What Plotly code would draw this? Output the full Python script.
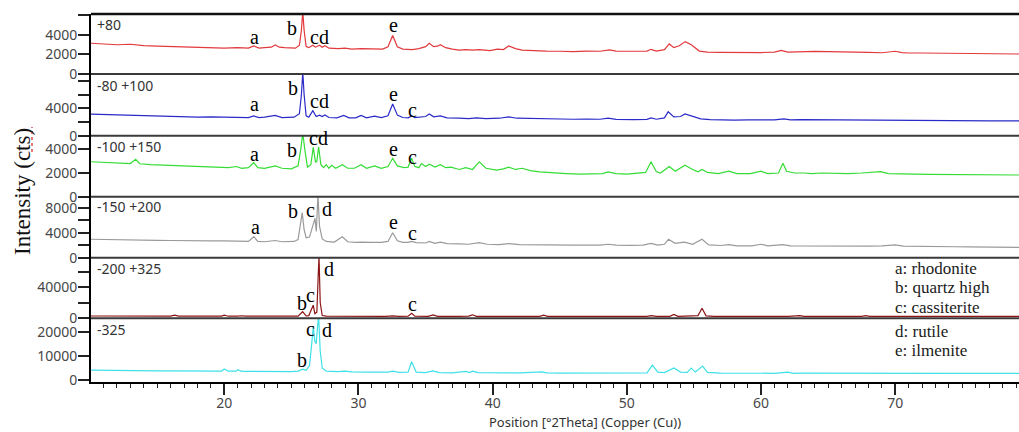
import plotly.graph_objects as go
from plotly.subplots import make_subplots

# ---------------- data ----------------
panel_names = ["+80", "-80 +100", "-100 +150", "-150 +200", "-200 +325", "-325"]

x_p80 = [10.07, 11, 12, 13, 14, 15, 16, 17, 18, 19, 20, 21, 21.8, 22.2, 22.6, 23, 23.5, 23.8, 24.1, 24.5,
         25.3, 25.6, 25.75, 25.85, 25.95, 26.1, 26.3, 26.6, 26.8, 27.1, 27.3, 27.5, 27.8, 28.5, 29, 29.5,
         30.2, 31, 31.8, 32.2, 32.55, 32.9, 33.3, 34, 34.5, 35.0, 35.28, 35.6, 35.9, 36.1, 36.5, 37, 37.5,
         38, 38.5, 39, 39.8, 40.35, 40.8, 41.2, 41.7, 42.2, 43, 44, 45, 46, 47, 48, 48.7, 49.2, 50, 50.8,
         51.5, 51.8, 52.2, 52.8, 53.16, 53.5, 53.9, 54.35, 54.8, 55.4, 56, 57, 58, 59, 60, 61, 61.5, 62,
         63, 64, 65, 66, 67, 68, 69, 70, 70.5, 71, 72, 73, 74, 75, 76, 77, 78, 79.3]
y_p80 = [3150, 3100, 3000, 3050, 2900, 2850, 2800, 2750, 2700, 2720, 2650, 2700, 2650, 2870, 2650, 2700, 2750, 2970, 2750, 2700,
         2650, 2950, 4500, 6400, 4500, 2800, 2700, 2950, 2750, 2950, 2750, 2900, 2650, 2600, 2650, 2550,
         2600, 2580, 2550, 2800, 3950, 2800, 2550, 2500, 2600, 2800, 3150, 2800, 2850, 3000, 2700, 2550, 2450,
         2500, 2450, 2500, 2400, 2550, 2500, 2870, 2600, 2450, 2380, 2350, 2330, 2300, 2350, 2330, 2470, 2350, 2330, 2300,
         2350, 2530, 2350, 2500, 3080, 2700, 2900, 3320, 3000, 2350, 2250, 2220, 2200, 2230, 2200, 2250, 2420, 2250,
         2300, 2320, 2300, 2250, 2200, 2220, 2180, 2330, 2200, 2150, 2150, 2130, 2120, 2100, 2100, 2080, 2060, 2050]

x_m80 = [10.07, 11, 12, 13, 14, 15, 16, 17, 18, 19, 20, 21, 21.8, 22.2, 22.6, 23, 23.8, 24.3, 25.2, 25.6,
         25.75, 25.85, 25.95, 26.1, 26.3, 26.6, 26.85, 27.1, 27.3, 27.5, 27.8, 28.4, 28.9, 29.3, 29.8, 30.2,
         30.6, 31.2, 31.7, 32.2, 32.55, 32.9, 33.3, 33.7, 33.96, 34.2, 34.6, 35.0, 35.28, 35.6, 36.1, 36.6,
         37.5, 38.2, 38.8, 39.5, 40.5, 41.2, 41.8, 43, 44, 45, 46, 47, 48, 48.6, 49.2, 50.5, 51.5, 51.8,
         52.2, 52.8, 53.08, 53.5, 54, 54.33, 54.9, 55.5, 56.2, 57, 58, 59, 60, 61, 61.7, 62.2, 63, 64, 65,
         66, 67, 68, 69, 70, 71, 72, 73, 74, 75, 76, 77, 78, 79.3]
y_m80 = [3150, 3100, 3050, 3000, 2950, 2850, 2800, 2750, 2700, 2750, 2700, 2650, 2650, 2880, 2650, 2700, 2950, 2650, 2700, 3200,
         6000, 9300, 6000, 2900, 2700, 3650, 2800, 3000, 2800, 3020, 2650, 2600, 2950, 2600, 2600, 2950,
         2600, 2850, 2650, 2900, 4630, 3000, 2650, 2600, 2880, 2650, 2700, 2800, 3170, 2750, 2900, 2600,
         2550, 2500, 2600, 2500, 2550, 2730, 2550, 2480, 2450, 2430, 2400, 2420, 2400, 2550, 2380, 2350, 2380, 2600,
         2400, 2600, 3500, 2750, 2800, 3170, 2800, 2450, 2350, 2300, 2280, 2300, 2250, 2300, 2440, 2320, 2350, 2330, 2300,
         2300, 2280, 2250, 2250, 2300, 2250, 2200, 2200, 2180, 2150, 2170, 2150, 2150, 2150]

x_m100 = [10.07, 11, 12, 13, 13.4, 13.7, 14.5, 15.5, 16.5, 17.5, 18.5, 19.5, 20.3, 20.9, 21.3, 21.8, 22.2, 22.5,
          23, 23.8, 24.3, 25, 25.5, 25.7, 25.85, 26.0, 26.2, 26.45, 26.63, 26.8, 26.9, 27.03, 27.2, 27.4, 27.6,
          27.8, 28.0, 28.3, 28.8, 29.2, 29.7, 30.2, 30.6, 31.2, 31.7, 32.2, 32.55, 32.9, 33.4, 33.7, 33.96, 34.2,
          34.5, 34.7, 35.0, 35.28, 35.7, 36.1, 36.5, 36.9, 37.5, 38.0, 38.5, 39.0, 39.5, 40.3, 40.8, 41.2, 41.7,
          42.2, 42.8, 43.5, 44.5, 45.5, 46.5, 47.5, 48.2, 48.6, 49.2, 50, 50.8, 51.4, 51.8, 52.2, 52.5, 53.16,
          53.6, 54.0, 54.33, 54.9, 55.3, 55.6, 56, 56.8, 57.6, 58.2, 59.2, 60.0, 60.5, 61.3, 61.63, 61.9, 62.5,
          63.2, 63.8, 64.5, 65.5, 66.5, 67.5, 68.2, 68.9, 69.5, 70.5, 71.5, 72.5, 73.5, 74.5, 75.5, 76.5, 77.5,
          78.5, 79.3]
y_m100 = [2950, 2900, 2850, 2800, 3150, 2780, 2700, 2650, 2600, 2550, 2500, 2500, 2450, 2550, 2400, 2450, 2870, 2450,
          2400, 2600, 2400, 2350, 2600, 4000, 5400, 4000, 2500, 2700, 4170, 2900, 3000, 4220, 2700, 2450, 2700,
          2400, 2650, 2400, 2700, 2400, 2400, 2700, 2400, 2600, 2400, 2550, 3240, 2600, 2450, 2500, 3240, 2550,
          2450, 2800, 2550, 2750, 2500, 2700, 2450, 2500, 2300, 2450, 2300, 2950, 2400, 2250, 2350, 2500, 2300,
          2400, 2200, 2100, 2000, 1950, 1900, 1950, 1950, 2100, 1950, 1900, 1950, 2050, 2950, 2100, 2000, 2550,
          2150, 2400, 2650, 2300, 2100, 2300, 2050, 1950, 2150, 1950, 1950, 2150, 1950, 2000, 2820, 2150, 2000,
          2000, 1950, 2000, 1980, 1950, 2000, 2050, 2120, 1950, 1900, 1900, 1880, 1870, 1860, 1850, 1850, 1840,
          1830, 1830]

x_m150 = [10.07, 11, 12, 13, 14, 15, 16, 17, 18, 19, 20, 21, 21.8, 22.2, 22.5, 23, 23.8, 24.3, 25.2, 25.5,
          25.7, 25.81, 25.95, 26.1, 26.35, 26.55, 26.76, 26.86, 26.93, 26.98, 27.1, 27.3, 27.6, 28.2, 28.8,
          29.2, 29.8, 30.2, 31, 31.7, 32.2, 32.55, 32.9, 33.3, 33.7, 33.96, 34.3, 35, 35.28, 35.7, 36.1, 36.6,
          37.5, 38.2, 39.0, 39.6, 40.5, 41.2, 42, 43, 44, 45, 46, 47, 48, 48.6, 49.2, 50.2, 51.2, 51.8, 52.3,
          52.8, 53.1, 53.6, 54.3, 54.9, 55.6, 56.1, 57, 57.6, 58.2, 59.3, 60.0, 60.5, 61.6, 62.2, 63, 64, 65,
          66, 67, 68, 69, 70.0, 70.6, 71.5, 72.5, 73.5, 74.5, 75.5, 76.5, 77.5, 78.5, 79.3]
y_m150 = [2950, 2900, 2880, 2850, 2800, 2780, 2750, 2700, 2650, 2700, 2700, 2650, 2600, 3360, 2600, 2550, 2750, 2550, 2600, 2900,
          5500, 7200, 4500, 3200, 3300, 4800, 6300, 4200, 8000, 10000, 5000, 3000, 2600, 2500, 3360,
          2550, 2450, 2500, 2450, 2450, 2600, 4000, 2700, 2450, 2450, 2600, 2400, 2350, 2600, 2300, 2500, 2250,
          2200, 2150, 2400, 2150, 2100, 2250, 2100, 2050, 2050, 2030, 2000, 2020, 2000, 2150, 2000, 1980, 2000, 2300, 2000,
          2150, 2940, 2300, 2500, 2150, 2940, 2050, 1950, 2100, 1900, 1900, 2150, 1900, 2100, 1900, 1880, 1870, 1870,
          1860, 1880, 1850, 1900, 2050, 1850, 1800, 1780, 1760, 1750, 1730, 1720, 1700, 1680, 1660]

x_m200 = [10.07, 12, 14, 15, 16, 16.3, 16.6, 17.5, 18.5, 19.8, 20.0, 20.3, 21.0, 21.3, 21.6, 23, 24, 25, 25.5,
          25.84, 26.1, 26.3, 26.63, 26.75, 26.9, 27.0, 27.06, 27.15, 27.3, 27.6, 28.5, 28.9, 29.3, 30.5, 32,
          32.55, 33, 33.7, 33.96, 34.2, 35.2, 35.55, 35.9, 37.5, 38.2, 38.5, 38.8, 40.5, 42, 43.5, 43.8, 44.1,
          46, 48, 50, 51.5, 51.8, 52.2, 53.2, 53.5, 53.8, 54.8, 55.3, 55.6, 55.9, 56.5, 58, 60, 62, 62.9, 63.2,
          65, 67.5, 67.8, 68.1, 70, 73, 76, 79.3]
y_m200 = [3000, 2900, 2800, 2700, 2900, 4200, 2800, 2700, 2700, 2800, 4000, 2700, 2700, 3300, 2700, 2600, 2600, 2600, 2800,
          8500, 3000, 3500, 17000, 6000, 8000, 55000, 80000, 20000, 3500, 2700, 2600, 3500, 2600, 2600, 2600,
          3200, 2600, 2700, 6400, 2700, 2600, 4500, 2600, 2600, 2800, 4500, 2600, 2550, 2550, 2550, 4000, 2550,
          2500, 2500, 2500, 2500, 3500, 2500, 2600, 5000, 2600, 3000, 3500, 12900, 3200, 2500, 2450, 2450, 2450, 3500, 2450,
          2400, 2400, 3500, 2400, 2400, 2400, 2400, 2400]

x_m325 = [10.07, 11, 12, 13, 14, 15, 16, 17, 18, 19, 19.8, 20.0, 20.3, 20.9, 21.0, 21.3, 22, 23, 24, 25, 25.5,
          25.84, 26.1, 26.35, 26.5, 26.63, 26.75, 26.85, 26.95, 27.03, 27.15, 27.3, 27.6, 28.5, 29, 29.5, 30.5,
          31.5, 32.2, 32.55, 33, 33.7, 33.96, 34.3, 35.0, 35.55, 36.0, 37, 38.0, 38.3, 38.5, 38.9, 40, 41, 42,
          43.7, 44.0, 45, 47, 49, 50.5, 51.5, 51.9, 52.3, 52.8, 53.5, 54.0, 54.5, 54.8, 55.1, 55.65, 56.0, 57,
          58, 59, 60, 61, 62.0, 62.4, 63, 64.5, 66, 68, 69, 70, 72, 74, 76, 78, 79.3]
y_m325 = [4100, 4000, 3950, 3900, 3850, 3800, 3800, 3750, 3700, 3700, 3700, 4550, 3650, 3650, 4300, 3600, 3550, 3500, 3500, 3500, 3700,
          4500, 4000, 6000, 14000, 22000, 16000, 15000, 22000, 26500, 12000, 5000, 3700, 3500, 3700, 3400, 3300,
          3300, 3300, 3700, 3200, 3300, 7560, 3300, 3100, 3800, 3100, 3000, 3600, 3100, 3700, 3050, 3000, 3000, 2950,
          3400, 2950, 2900, 2900, 2900, 2900, 3000, 6200, 3300, 3100, 4960, 3300, 3200, 4900, 3300, 5780, 3200, 2900,
          2850, 2850, 2850, 2800, 3300, 2800, 2850, 2800, 2800, 2780, 2850, 2780, 2750, 2750, 2750, 2750, 2800]

series_x = [x_p80, x_m80, x_m100, x_m150, x_m200, x_m325]
series_y = [y_p80, y_m80, y_m100, y_m150, y_m200, y_m325]

# axis tick values / labels per panel
y_tickvals = [[0, 2000, 4000, 6000], [0, 2000, 4000, 6000, 8000], [0, 2000, 4000],
              [0, 2000, 4000, 6000, 8000], [0, 20000, 40000, 60000], [0, 10000, 20000]]
y_ticktext = [["0", "2000", "4000", ""], ["0", "", "4000", "", ""], ["0", "2000", "4000"],
              ["0", "", "4000", "", "8000"], ["0", "", "40000", ""], ["0", "10000", "20000"]]
x_tickvals = [20, 30, 40, 50, 60, 70]
x_ticktext = ["20", "30", "40", "50", "60", "70"]

peak_legend = ["a: rhodonite", "b: quartz high", "c: cassiterite", "d: rutile", "e: ilmenite"]

# ---------------- style / layout ----------------
colors = ["#e2393c", "#2a2ac8", "#35dc35", "#9a9a9a", "#8c1414", "#3fe0e8"]
y_ranges = [[0, 6150], [0, 9000], [0, 5150], [0, 9760], [0, 78200], [-800, 25500]]

W, H = 1019, 432
ML, MR, MT, MB = 91, 0, 14, 50
PW, PH = W - ML - MR, H - MT - MB
bounds_px = [14, 74, 135.7, 196.7, 257.7, 318.3, 382]

def px_x(p):
    return (p - ML) / PW

def px_y(p):
    return (MT + PH - p) / PH

fig = make_subplots(rows=6, cols=1, shared_xaxes=True, vertical_spacing=0)

for i in range(6):
    fig.add_trace(go.Scatter(x=series_x[i], y=series_y[i], mode="lines",
                             line=dict(color=colors[i], width=1.2), name=panel_names[i],
                             showlegend=False, hoverinfo="skip"), row=i + 1, col=1)

tickfont = dict(family="Noto Sans, Open Sans, sans-serif", size=14, color="#474747")

for i in range(6):
    ya = "yaxis" if i == 0 else f"yaxis{i + 1}"
    xa = "xaxis" if i == 0 else f"xaxis{i + 1}"
    top = px_y(bounds_px[i])
    bot = px_y(bounds_px[i + 1])
    fig.layout[ya].update(domain=[bot, top], range=y_ranges[i], tickmode="array",
                          tickvals=y_tickvals[i], ticktext=y_ticktext[i], ticks="outside",
                          ticklen=11, tickwidth=1.5, tickcolor="#222", showline=True,
                          linecolor="black", linewidth=2, showgrid=False, zeroline=False,
                          tickfont=tickfont, fixedrange=True, ticklabelstandoff=-2)
    fig.layout[xa].update(range=[10.07, 79.22], showgrid=False, zeroline=False,
                          showticklabels=(i == 5), ticks="outside" if i == 5 else "",
                          showline=False)

fig.layout["xaxis6"].update(tickmode="array", tickvals=x_tickvals, ticktext=x_ticktext,
                            ticklen=11, tickwidth=1.5, tickcolor="#222",
                            minor=dict(dtick=1, tick0=0, ticks="outside", ticklen=4,
                                       tickwidth=1.2, tickcolor="#222"),
                            showline=True, linecolor="black", linewidth=2,
                            tickfont=tickfont, ticklabelstandoff=-4)

shapes = []
shapes.append(dict(type="line", xref="paper", yref="paper", x0=0, x1=1, y0=1, y1=1,
                   line=dict(color="#111", width=2.5)))
for b in bounds_px[1:-1]:
    shapes.append(dict(type="line", xref="paper", yref="paper", x0=0, x1=1,
                       y0=px_y(b), y1=px_y(b), line=dict(color="#3a3a3a", width=2)))
shapes.append(dict(type="line", xref="paper", yref="paper", x0=px_x(32), x1=px_x(32),
                   y0=px_y(152), y1=px_y(127), line=dict(color="#d02020", width=1.2, dash="dot")))

annotations = []
label_pos = [(95, 24), (95, 85.5), (95, 146.5), (95, 207), (95, 268), (95, 329)]
for name, (px, py) in zip(panel_names, label_pos):
    annotations.append(dict(text=name, x=px_x(px), y=px_y(py), xref="paper", yref="paper",
                            xanchor="left", yanchor="middle", showarrow=False,
                            font=dict(family="Noto Sans, Open Sans, sans-serif", size=14, color="#333")))

peak_letters = [("a", 254, 37), ("b", 292, 28), ("cd", 319, 37), ("e", 393, 25),
                ("a", 254, 104), ("b", 293, 88), ("cd", 319, 101), ("e", 393, 94), ("c", 412, 110),
                ("a", 254, 154), ("b", 292, 150), ("cd", 318, 138), ("e", 393, 149), ("c", 412, 157),
                ("a", 255, 227), ("b", 293, 211), ("c", 310, 210), ("d", 327, 209), ("e", 393, 222), ("c", 412, 233),
                ("d", 329, 269), ("c", 310, 295), ("b", 302, 303), ("c", 412, 304),
                ("c", 310, 329), ("d", 327, 330), ("b", 302, 360)]
for t, px, py in peak_letters:
    annotations.append(dict(text=t, x=px_x(px), y=px_y(py), xref="paper", yref="paper",
                            xanchor="center", yanchor="middle", showarrow=False,
                            font=dict(family="Liberation Serif, Times New Roman, serif", size=20, color="black")))

legend_pos = [268, 287.5, 307, 331, 350.5]
for t, py in zip(peak_legend, legend_pos):
    annotations.append(dict(text=t, x=px_x(893), y=px_y(py), xref="paper", yref="paper",
                            xanchor="left", yanchor="middle", showarrow=False,
                            font=dict(family="Liberation Serif, Times New Roman, serif", size=17, color="#1a1a1a")))

annotations.append(dict(text="Intensity (cts)", x=px_x(22), y=px_y(192), xref="paper", yref="paper",
                        xanchor="center", yanchor="middle", textangle=-90, showarrow=False,
                        font=dict(family="Liberation Serif, Times New Roman, serif", size=23, color="#111")))
annotations.append(dict(text="Position [°2Theta] (Copper (Cu))", x=px_x(585), y=px_y(422), xref="paper",
                        yref="paper", xanchor="center", yanchor="middle", showarrow=False,
                        font=dict(family="Noto Sans, Open Sans, sans-serif", size=13, color="#333")))

fig.update_layout(width=W, height=H, margin=dict(l=ML, r=MR, t=MT, b=MB, autoexpand=False),
                  paper_bgcolor="white", plot_bgcolor="white", shapes=shapes,
                  annotations=annotations, showlegend=False)

fig.write_html("out.html", config={"displayModeBar": False},
               post_script="document.body.style.margin='0';document.body.style.overflow='hidden';")
